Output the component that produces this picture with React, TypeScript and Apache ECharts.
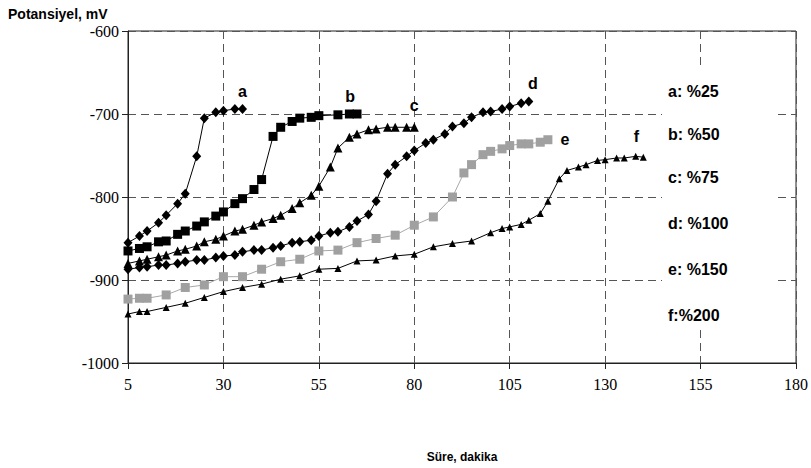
import React, { useEffect, useRef } from "react";
import * as echarts from "echarts";

const xTicks = [5, 30, 55, 80, 105, 130, 155, 180];
const yTicks = [-1000, -900, -800, -700, -600];

const seriesNames = ["a", "b", "c", "d", "e", "f"];
const legendLines = ["a: %25", "b: %50", "c: %75", "d: %100", "e: %150", "f:%200"];

const dataA = [[5,-855],[8,-847],[10,-841],[13,-831],[15,-822],[18,-808],[20,-796],[23,-751],[25,-705],[28,-698],[30,-696],[33,-694],[35,-694]];
const dataB = [[5,-865],[8,-862],[10,-860],[13,-854],[15,-853],[18,-845],[20,-841],[23,-835],[25,-830],[28,-823],[30,-818],[33,-808],[35,-802],[38,-791],[40,-779],[43,-727],[45,-716],[48,-709],[50,-705],[53,-704],[55,-702],[60,-701],[63,-700],[65,-700]];
const dataC = [[5,-880],[8,-877],[10,-875],[13,-872],[15,-870],[18,-865],[20,-863],[23,-859],[25,-854],[28,-851],[30,-847],[33,-841],[35,-839],[38,-834],[40,-830],[43,-826],[45,-822],[48,-814],[50,-807],[53,-798],[55,-787],[58,-764],[60,-741],[63,-728],[65,-724],[68,-719],[70,-718],[73,-716],[75,-716],[78,-716],[80,-716]];
const dataD = [[5,-887],[8,-885],[10,-884],[13,-882],[15,-882],[18,-880],[20,-878],[23,-876],[25,-876],[28,-873],[30,-871],[33,-870],[35,-866],[38,-864],[40,-864],[43,-861],[45,-859],[48,-855],[50,-854],[53,-852],[55,-847],[58,-843],[60,-842],[63,-836],[65,-829],[68,-821],[70,-805],[73,-772],[75,-761],[78,-751],[80,-744],[83,-735],[85,-731],[88,-724],[90,-715],[93,-711],[95,-704],[98,-698],[100,-697],[103,-694],[105,-691],[108,-687],[110,-685]];
const dataE = [[5,-923],[8,-922],[10,-922],[15,-918],[20,-909],[25,-906],[30,-896],[35,-896],[40,-887],[45,-878],[50,-875],[55,-865],[60,-864],[65,-855],[70,-850],[75,-846],[80,-834],[85,-824],[90,-800],[93,-771],[95,-761],[98,-749],[100,-745],[103,-742],[105,-738],[108,-736],[110,-736],[113,-734],[115,-731]];
const dataF = [[5,-941],[8,-938],[10,-938],[15,-933],[20,-928],[25,-921],[30,-914],[35,-909],[40,-905],[45,-899],[50,-895],[55,-887],[60,-886],[65,-877],[70,-876],[75,-871],[80,-869],[85,-860],[90,-856],[95,-853],[100,-843],[103,-838],[105,-836],[108,-833],[110,-828],[113,-820],[115,-805],[118,-778],[120,-768],[123,-764],[125,-761],[128,-756],[130,-755],[133,-753],[135,-753],[138,-751],[140,-752]];

const allData = [dataA, dataB, dataC, dataD, dataE, dataF];

const styles = [
  { symbol: "diamond", size: [9, 10], color: "#000", line: "#000" },
  { symbol: "rect", size: 9, color: "#000", line: "#000" },
  { symbol: "triangle", size: 9, color: "#000", line: "#000" },
  { symbol: "diamond", size: [9, 10], color: "#000", line: "#000" },
  { symbol: "rect", size: 9, color: "#a0a0a0", line: "#a8a8a8" },
  { symbol: "triangle", size: 7, color: "#000", line: "#000" },
];

const labelPlacement: any[] = [
  { position: "top", offset: [0, 0] },
  { position: "top", offset: [-7, 0] },
  { position: "top", offset: [0, -4] },
  { position: "top", offset: [4, 0] },
  { position: "right", offset: [3, 0] },
  { position: "top", offset: [-7, -4] },
];

const sans = "Liberation Sans, Arial, sans-serif";
const serif = "Liberation Serif, Times New Roman, serif";

export default function App() {
  const ref = useRef<HTMLDivElement>(null);
  useEffect(() => {
    if (!ref.current) return;
    const chart = echarts.init(ref.current, undefined, { renderer: "svg" });
    const series = allData.map((d, i) => {
      const st = styles[i];
      const data: any[] = d.map((p, j) => {
        if (j === d.length - 1) {
          return {
            value: p,
            label: {
              show: true,
              formatter: seriesNames[i],
              position: labelPlacement[i].position,
              offset: labelPlacement[i].offset,
              fontFamily: sans,
              fontWeight: "bold",
              fontSize: 16,
              color: "#000",
            },
          };
        }
        return p;
      });
      return {
        type: "line",
        name: seriesNames[i],
        data,
        symbol: st.symbol,
        symbolSize: st.size,
        showAllSymbol: true,
        itemStyle: { color: st.color },
        lineStyle: { color: st.line, width: 1 },
        z: 3,
      };
    });
    chart.setOption({
      animation: false,
      textStyle: { fontFamily: serif },
      grid: {
        left: 128,
        right: 14,
        top: 31,
        bottom: 105,
        show: true,
        borderColor: "#222",
        borderWidth: 1,
        backgroundColor: "transparent",
      },
      xAxis: {
        type: "value",
        min: xTicks[0],
        max: xTicks[xTicks.length - 1],
        interval: 25,
        name: "Süre, dakika",
        nameLocation: "middle",
        nameGap: 88,
        nameTextStyle: { fontFamily: sans, fontWeight: "bold", fontSize: 12, color: "#000" },
        axisLine: { show: true, onZero: false, lineStyle: { color: "#222", width: 1 } },
        axisTick: { show: true, inside: false, length: 6, lineStyle: { color: "#222" } },
        axisLabel: { fontFamily: serif, fontSize: 16, color: "#000", margin: 13, formatter: (v: number) => String(v) },
        splitLine: { show: true, lineStyle: { color: "#555", type: [8, 5], width: 1 } },
      },
      yAxis: {
        type: "value",
        min: yTicks[0],
        max: yTicks[yTicks.length - 1],
        interval: 100,
        axisLine: { show: true, onZero: false, lineStyle: { color: "#222", width: 1 } },
        axisTick: { show: true, inside: false, length: 6, lineStyle: { color: "#222" } },
        axisLabel: { fontFamily: serif, fontSize: 16, color: "#000", margin: 9, formatter: (v: number) => String(v) },
        splitLine: { show: true, lineStyle: { color: "#555", type: [8, 5], width: 1 } },
      },
      graphic: [
        {
          type: "text",
          left: 8,
          top: 7,
          style: { text: "Potansiyel, mV", fontFamily: sans, fontWeight: "bold", fontSize: 14, fill: "#000" },
        },
        {
          type: "rect",
          shape: { x: 662, y: 66, width: 113, height: 260 },
          style: { fill: "#fff" },
          z: 10,
        },
        ...legendLines.map((t, i) => ({
          type: "text",
          x: 668,
          y: [91, 134, 177, 223, 269, 315][i],
          style: {
            text: t,
            fontFamily: sans,
            fontWeight: "bold",
            fontSize: 16,
            fill: "#000",
            verticalAlign: "middle",
          },
          z: 11,
        })),
      ],
      series,
    });
    return () => chart.dispose();
  }, []);
  return <div ref={ref} style={{ width: 811, height: 468, position: "absolute", left: 0, top: 0 }} />;
}
